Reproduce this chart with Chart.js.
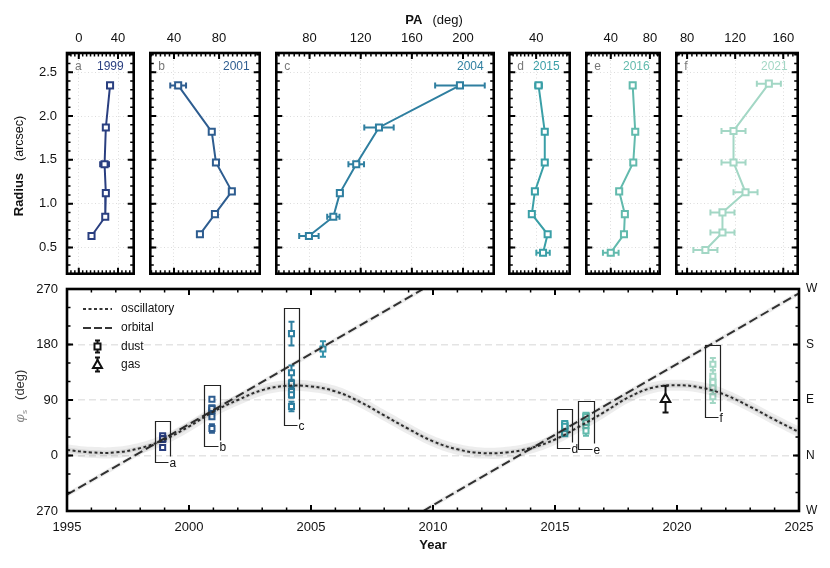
<!DOCTYPE html>
<html>
<head>
<meta charset="utf-8">
<script src="https://cdn.jsdelivr.net/npm/chart.js@4.4.1/dist/chart.umd.min.js"></script>
<style>
  html, body { margin: 0; padding: 0; background: #fff; }
  #wrap { position: relative; width: 830px; height: 568px; overflow: hidden;
          font-family: "Liberation Sans", Arial, sans-serif; color: #111; }
  #wrap canvas { position: absolute; }
  .t { position: absolute; font-size: 13px; white-space: nowrap; line-height: 1; }
</style>
</head>
<body>
<div id="wrap">
  <canvas id="p1999"></canvas>
  <canvas id="p2001"></canvas>
  <canvas id="p2004"></canvas>
  <canvas id="p2015"></canvas>
  <canvas id="p2016"></canvas>
  <canvas id="p2021"></canvas>
  <canvas id="phi"></canvas>
  <div class="t" style="left:434px;top:19px;transform:translate(-50%,-50%)"><b>PA</b><span style="margin-left:10px">(deg)</span></div>
  <div class="t" style="left:19px;top:166px;transform:translate(-50%,-50%) rotate(-90deg)"><b>Radius</b><span style="margin-left:12px;font-size:12.5px">(arcsec)</span></div>
  <div class="t" style="left:21px;top:396px;transform:translate(-50%,-50%) rotate(-90deg)"><span style="color:#888;font-style:italic">φ</span><sub style="color:#888;font-size:8px">s</sub><span style="margin-left:10px;color:#333">(deg)</span></div>
</div>

<script>
/* Radius vs PA panels + phi_s vs year */

// ── Data: radius profiles (PA in deg, radius in arcsec) ─────────
const RADIUS_TICKS = [0.5, 1.0, 1.5, 2.0, 2.5];

const R_1999   = [2.35, 1.87, 1.45, 1.12, 0.85, 0.63];
const PA_1999  = [31.9, 27.6, 26.3, 27.6, 27.0, 13.0];
const ERR_1999 = [1.5, 1.5, 4.5, 1.5, 1.5, 1.5];

const R_2001   = [2.35, 1.82, 1.47, 1.14, 0.88, 0.65];
const PA_2001  = [43.7, 73.5, 77.2, 91.3, 76.3, 63.0];
const ERR_2001 = [7.0, 1.5, 1.5, 1.5, 1.5, 1.5];

const R_2004   = [2.35, 1.87, 1.45, 1.12, 0.85, 0.63];
const PA_2004  = [197.6, 134.3, 116.5, 103.7, 98.6, 79.5];
const ERR_2004 = [19.4, 11.5, 6.1, 2.0, 4.8, 7.6];

const R_2015   = [2.35, 1.82, 1.47, 1.14, 0.88, 0.65, 0.44];
const PA_2015  = [42.5, 49.0, 49.0, 38.7, 35.5, 52.0, 47.2];
const ERR_2015 = [3.5, 1.5, 1.5, 1.5, 1.5, 1.5, 7.0];

const R_2016   = [2.35, 1.82, 1.47, 1.14, 0.88, 0.65, 0.44];
const PA_2016  = [62.4, 65.0, 63.0, 48.6, 54.4, 53.5, 40.0];
const ERR_2016 = [1.5, 1.5, 1.5, 1.5, 1.5, 1.5, 8.0];

const R_2021   = [2.37, 1.83, 1.47, 1.13, 0.90, 0.67, 0.47];
const PA_2021  = [148.0, 118.6, 118.6, 128.6, 109.4, 109.4, 95.2];
const ERR_2021 = [10, 10, 10, 10, 10, 10, 10];

const PA_TICKS_1999 = [0, 40];
const PA_TICKS_2001 = [40, 80];
const PA_TICKS_2004 = [80, 120, 160, 200];
const PA_TICKS_2015 = [40];
const PA_TICKS_2016 = [40, 80];
const PA_TICKS_2021 = [80, 120, 160];

// ── Data: phi_s vs year ─────────────────────────────────────────
const EPOCH_LETTERS = ['a', 'b', 'c', 'd', 'e', 'f'];
const EPOCH_YEARS   = [1998.92, 2000.94, 2004.2, 2015.4, 2016.27, 2021.47];

const EXTRA_YEAR = [2005.49];
const EXTRA_PHI  = [172.7];
const EXTRA_ERR  = [12.7];

const GAS_YEAR = [2019.53];
const GAS_PHI  = [91.3];
const GAS_ERR  = [21.7];

const OSC_YEARS = [1995, 1996, 1997, 1998, 1999, 2000, 2001, 2002, 2003, 2004, 2005,
                   2006, 2007, 2008, 2009, 2010, 2011, 2012, 2013, 2014, 2015,
                   2016, 2017, 2018, 2019, 2020, 2021, 2022, 2023, 2024, 2025];
const OSC_PHI   = [9, 5, 5, 12, 26, 47, 71, 90, 106, 113, 112,
                   104, 87, 65, 43, 23, 10, 4, 5, 12, 26,
                   47, 70, 94, 110, 114, 110, 98, 79, 58, 38];

const ORBIT1_YEARS = [1995, 2009.6];
const ORBIT1_PHI   = [-63.6, 270];
const ORBIT2_YEARS = [2009.6, 2025];
const ORBIT2_PHI   = [-90, 263];

const YEAR_TICKS  = [1995, 2000, 2005, 2010, 2015, 2020, 2025];
const PHI_TICKS   = [-90, 0, 90, 180, 270];
const PHI_LABELS  = ['270', '0', '90', '180', '270'];
const COMPASS     = ['W', 'N', 'E', 'S', 'W'];
const LEGEND_TEXT = ['oscillatory', 'orbital', 'dust', 'gas'];

// ── Styling ─────────────────────────────────────────────────────
const FONT = '"Liberation Sans", Arial, sans-serif';
Chart.defaults.font.family = FONT;
Chart.defaults.color = '#111';

const COLORS = {
  1999: '#2a3f80', 2001: '#2e5d90', 2004: '#2f7fa0',
  2015: '#3a9fa7', 2016: '#62baad', 2021: '#a3d7c5'
};
const EXTRA_COLOR = '#3592ab';
const GRID = '#dcdcdc';
const LINE = '#353535';
const OSC_BAND = [9, 4];
const ORBIT_BAND = 4;
const BOX_PAD = 22;
const BOX_HALF = 0.31;

// fixed axis sizes, no label overhang padding
const fixSize = (w, h) => s => {
  if (w !== null) s.width = w;
  if (h !== null) s.height = h;
  s.paddingLeft = 0; s.paddingRight = 0; s.paddingTop = 0; s.paddingBottom = 0;
};

// ── Plugins ─────────────────────────────────────────────────────
const errorBars = {
  id: 'errorBars',
  beforeDatasetDraw(chart, args) {
    const ds = chart.data.datasets[args.index];
    if (!ds.errX && !ds.errY) return;
    const xs = chart.scales.x, ys = chart.scales.y, ctx = chart.ctx;
    const cap = 3;
    ctx.save();
    ctx.strokeStyle = ds.pointBorderColor;
    ctx.lineWidth = 2;
    ds.data.forEach((p, i) => {
      const px = xs.getPixelForValue(p.x), py = ys.getPixelForValue(p.y);
      ctx.beginPath();
      if (ds.errX) {
        const a = xs.getPixelForValue(p.x - ds.errX[i]), b = xs.getPixelForValue(p.x + ds.errX[i]);
        ctx.moveTo(a, py); ctx.lineTo(b, py);
        ctx.moveTo(a, py - cap); ctx.lineTo(a, py + cap);
        ctx.moveTo(b, py - cap); ctx.lineTo(b, py + cap);
      }
      if (ds.errY) {
        const a = ys.getPixelForValue(p.y - ds.errY[i]), b = ys.getPixelForValue(p.y + ds.errY[i]);
        ctx.moveTo(px, a); ctx.lineTo(px, b);
        ctx.moveTo(px - cap, a); ctx.lineTo(px + cap, a);
        ctx.moveTo(px - cap, b); ctx.lineTo(px + cap, b);
      }
      ctx.stroke();
    });
    ctx.restore();
  }
};

// inward ticks on all four sides + heavy frame
const frame = {
  id: 'frame',
  afterDraw(chart, args, opts) {
    const { ctx, chartArea: a } = chart;
    const xs = chart.scales.x, ys = chart.scales.y;
    const minors = (s, step) => {
      const out = [];
      for (let v = Math.ceil(s.min / step - 1e-6) * step; v <= s.max + 1e-6; v += step) out.push(v);
      return out;
    };
    const drawX = (vals, len) => vals.forEach(v => {
      const px = xs.getPixelForValue(v);
      ctx.moveTo(px, a.top); ctx.lineTo(px, a.top + len);
      ctx.moveTo(px, a.bottom); ctx.lineTo(px, a.bottom - len);
    });
    const drawY = (vals, len) => vals.forEach(v => {
      const py = ys.getPixelForValue(v);
      ctx.moveTo(a.left, py); ctx.lineTo(a.left + len, py);
      ctx.moveTo(a.right, py); ctx.lineTo(a.right - len, py);
    });
    ctx.save();
    ctx.strokeStyle = '#000';
    ctx.lineWidth = 1.5;
    ctx.beginPath();
    drawX(minors(xs, opts.xMinor), 3.5);
    drawY(minors(ys, opts.yMinor), 3.5);
    ctx.stroke();
    ctx.lineWidth = 2;
    ctx.beginPath();
    drawX(xs.ticks.map(t => t.value), 6);
    drawY(ys.ticks.map(t => t.value), 6);
    ctx.stroke();
    ctx.lineWidth = 2.6;
    ctx.strokeRect(a.left, a.top, a.right - a.left, a.bottom - a.top);
    ctx.restore();
  }
};

const panelTag = {
  id: 'panelTag',
  afterDraw(chart, args, opts) {
    const { ctx, chartArea: a } = chart;
    ctx.save();
    ctx.font = '12px ' + FONT;
    ctx.textBaseline = 'middle';
    ctx.fillStyle = '#777';
    ctx.textAlign = 'left';
    ctx.fillText(opts.letter, a.left + 8, a.top + 14);
    ctx.fillStyle = opts.color;
    ctx.textAlign = 'right';
    ctx.fillText(opts.year, a.right - 10, a.top + 14);
    ctx.restore();
  }
};

// ── Top panels ──────────────────────────────────────────────────
const PANELS = [
  { id: 'p1999', year: 1999, letter: 'a', r: R_1999, pa: PA_1999, err: ERR_1999, ticks: PA_TICKS_1999, min: -12, max: 56,  left: 0,   width: 140, axis: true },
  { id: 'p2001', year: 2001, letter: 'b', r: R_2001, pa: PA_2001, err: ERR_2001, ticks: PA_TICKS_2001, min: 19,  max: 116, left: 144, width: 122 },
  { id: 'p2004', year: 2004, letter: 'c', r: R_2004, pa: PA_2004, err: ERR_2004, ticks: PA_TICKS_2004, min: 54,  max: 224, left: 270, width: 230 },
  { id: 'p2015', year: 2015, letter: 'd', r: R_2015, pa: PA_2015, err: ERR_2015, ticks: PA_TICKS_2015, min: 12,  max: 75,  left: 503, width: 73 },
  { id: 'p2016', year: 2016, letter: 'e', r: R_2016, pa: PA_2016, err: ERR_2016, ticks: PA_TICKS_2016, min: 15,  max: 90,  left: 580, width: 86 },
  { id: 'p2021', year: 2021, letter: 'f', r: R_2021, pa: PA_2021, err: ERR_2021, ticks: PA_TICKS_2021, min: 71,  max: 172, left: 670, width: 134 }
];

PANELS.forEach(p => {
  const cv = document.getElementById(p.id);
  cv.width = p.width; cv.height = 280;
  cv.style.left = p.left + 'px'; cv.style.top = '0px';
  const color = COLORS[p.year];
  new Chart(cv, {
    type: 'line',
    data: {
      datasets: [{
        data: p.pa.map((v, i) => ({ x: v, y: p.r[i] })),
        errX: p.err,
        borderColor: color, borderWidth: 2, tension: 0,
        pointStyle: 'rect', pointRadius: 4.3, pointBorderWidth: 2,
        pointBackgroundColor: '#fff', pointBorderColor: color
      }]
    },
    options: {
      responsive: false, animation: false, events: [],
      layout: { padding: { left: 4, right: 4, top: 0, bottom: 4 } },
      plugins: {
        legend: { display: false }, tooltip: { enabled: false },
        frame: { xMinor: 4, yMinor: 0.1 },
        panelTag: { letter: p.letter, year: String(p.year), color: color }
      },
      scales: {
        x: {
          type: 'linear', position: 'top', min: p.min, max: p.max,
          afterBuildTicks: s => { s.ticks = p.ticks.map(v => ({ value: v })); },
          afterFit: fixSize(null, 53),
          grid: { color: GRID, lineWidth: 1, drawTicks: false },
          border: { display: false, dash: [1, 2.5] },
          ticks: { padding: 7, font: { size: 13 }, callback: v => String(v) }
        },
        y: {
          type: 'linear', min: 0.2, max: 2.72,
          afterBuildTicks: s => { s.ticks = RADIUS_TICKS.map(v => ({ value: v })); },
          afterFit: fixSize(p.axis ? 63 : 0, null),
          grid: { color: GRID, lineWidth: 1, drawTicks: false },
          border: { display: false, dash: [1, 2.5] },
          ticks: { display: !!p.axis, padding: 10, font: { size: 13 }, callback: v => v.toFixed(1) }
        }
      }
    },
    plugins: [errorBars, frame, panelTag]
  });
});

// ── Bottom panel: phi_s vs year ─────────────────────────────────
const EPOCH_DATA = [
  { year: 1999, pa: PA_1999, err: ERR_1999 },
  { year: 2001, pa: PA_2001, err: ERR_2001 },
  { year: 2004, pa: PA_2004, err: ERR_2004 },
  { year: 2015, pa: PA_2015, err: ERR_2015 },
  { year: 2016, pa: PA_2016, err: ERR_2016 },
  { year: 2021, pa: PA_2021, err: ERR_2021 }
];

const epochBoxes = {
  id: 'epochBoxes',
  afterDatasetsDraw(chart) {
    const { ctx } = chart;
    const xs = chart.scales.x, ys = chart.scales.y;
    ctx.save();
    ctx.strokeStyle = '#222';
    ctx.lineWidth = 1.2;
    ctx.font = '12px ' + FONT;
    ctx.fillStyle = '#111';
    ctx.textBaseline = 'middle';
    EPOCH_DATA.forEach((e, k) => {
      let lo = Infinity, hi = -Infinity;
      e.pa.forEach((v, i) => { lo = Math.min(lo, v - e.err[i]); hi = Math.max(hi, v + e.err[i]); });
      const yr = EPOCH_YEARS[k];
      const l = Math.round(xs.getPixelForValue(yr - BOX_HALF)) + 0.5;
      const r = Math.round(xs.getPixelForValue(yr + BOX_HALF)) + 0.5;
      const t = Math.round(ys.getPixelForValue(hi + BOX_PAD)) + 0.5;
      const b = Math.round(ys.getPixelForValue(lo - BOX_PAD)) + 0.5;
      ctx.beginPath();
      ctx.moveTo(r, b - 6); ctx.lineTo(r, t); ctx.lineTo(l, t); ctx.lineTo(l, b); ctx.lineTo(r - 2, b);
      ctx.stroke();
      ctx.fillText(EPOCH_LETTERS[k], r - 1, b + 1);
    });
    ctx.restore();
  }
};

const phiLegend = {
  id: 'phiLegend',
  afterDraw(chart) {
    const { ctx, chartArea: a } = chart;
    const x0 = a.left + 16, x1 = a.left + 45, xm = (x0 + x1) / 2, tx = a.left + 54;
    const rows = [20, 39, 57.5, 75.5].map(d => a.top + d);
    ctx.save();
    ctx.strokeStyle = LINE;
    ctx.lineWidth = 2;
    ctx.setLineDash([3, 2.5]);
    ctx.beginPath(); ctx.moveTo(x0, rows[0]); ctx.lineTo(x1, rows[0]); ctx.stroke();
    ctx.setLineDash([8, 3]);
    ctx.beginPath(); ctx.moveTo(x0, rows[1]); ctx.lineTo(x1, rows[1]); ctx.stroke();
    ctx.setLineDash([]);
    ctx.strokeStyle = '#111';
    // dust
    let y = rows[2];
    ctx.beginPath();
    ctx.moveTo(xm, y - 6); ctx.lineTo(xm, y + 6);
    ctx.moveTo(xm - 2.5, y - 6); ctx.lineTo(xm + 2.5, y - 6);
    ctx.moveTo(xm - 2.5, y + 6); ctx.lineTo(xm + 2.5, y + 6);
    ctx.stroke();
    ctx.fillStyle = '#fff';
    ctx.fillRect(xm - 3, y - 3, 6, 6); ctx.strokeRect(xm - 3, y - 3, 6, 6);
    // gas
    y = rows[3];
    ctx.beginPath();
    ctx.moveTo(xm, y - 7); ctx.lineTo(xm, y + 7);
    ctx.moveTo(xm - 2.5, y - 7); ctx.lineTo(xm + 2.5, y - 7);
    ctx.moveTo(xm - 2.5, y + 7); ctx.lineTo(xm + 2.5, y + 7);
    ctx.stroke();
    ctx.beginPath();
    ctx.moveTo(xm, y - 4.5); ctx.lineTo(xm + 4.5, y + 3.5); ctx.lineTo(xm - 4.5, y + 3.5); ctx.closePath();
    ctx.fill(); ctx.stroke();
    ctx.fillStyle = '#111';
    ctx.font = '12px ' + FONT;
    ctx.textBaseline = 'middle';
    LEGEND_TEXT.forEach((t, i) => ctx.fillText(t, tx, rows[i]));
    ctx.restore();
  }
};

const xy = (xsArr, ysArr, off = 0) => xsArr.map((x, i) => ({ x: x, y: ysArr[i] + off }));
const band = (pts, fillColor, tension) => [
  { data: pts.up, fill: '+1', backgroundColor: fillColor, borderWidth: 0, pointRadius: 0, tension: tension },
  { data: pts.lo, fill: false, borderWidth: 0, pointRadius: 0, tension: tension }
];

const phiDatasets = [
  ...band({ up: xy(OSC_YEARS, OSC_PHI, OSC_BAND[0]), lo: xy(OSC_YEARS, OSC_PHI, -OSC_BAND[0]) }, 'rgba(0,0,0,0.07)', 0.4),
  ...band({ up: xy(OSC_YEARS, OSC_PHI, OSC_BAND[1]), lo: xy(OSC_YEARS, OSC_PHI, -OSC_BAND[1]) }, 'rgba(0,0,0,0.08)', 0.4),
  ...band({ up: xy(ORBIT1_YEARS, ORBIT1_PHI, ORBIT_BAND), lo: xy(ORBIT1_YEARS, ORBIT1_PHI, -ORBIT_BAND) }, 'rgba(0,0,0,0.07)', 0),
  ...band({ up: xy(ORBIT2_YEARS, ORBIT2_PHI, ORBIT_BAND), lo: xy(ORBIT2_YEARS, ORBIT2_PHI, -ORBIT_BAND) }, 'rgba(0,0,0,0.07)', 0),
  { data: xy(OSC_YEARS, OSC_PHI), borderColor: LINE, borderWidth: 2, borderDash: [3, 2.5], pointRadius: 0, tension: 0.4 },
  { data: xy(ORBIT1_YEARS, ORBIT1_PHI), borderColor: LINE, borderWidth: 2, borderDash: [9, 4], pointRadius: 0 },
  { data: xy(ORBIT2_YEARS, ORBIT2_PHI), borderColor: LINE, borderWidth: 2, borderDash: [9, 4], pointRadius: 0 },
  ...EPOCH_DATA.map((e, k) => ({
    data: e.pa.map(v => ({ x: EPOCH_YEARS[k], y: v })),
    errY: e.err, showLine: false,
    pointStyle: 'rect', pointRadius: 3.6, pointBorderWidth: 2,
    pointBackgroundColor: '#fff', pointBorderColor: COLORS[e.year]
  })),
  {
    data: xy(EXTRA_YEAR, EXTRA_PHI), errY: EXTRA_ERR, showLine: false,
    pointStyle: 'rect', pointRadius: 3.6, pointBorderWidth: 2,
    pointBackgroundColor: '#fff', pointBorderColor: EXTRA_COLOR
  },
  {
    data: xy(GAS_YEAR, GAS_PHI), errY: GAS_ERR, showLine: false,
    pointStyle: 'triangle', pointRadius: 5.5, pointBorderWidth: 2,
    pointBackgroundColor: '#fff', pointBorderColor: '#111'
  }
];

const phiCanvas = document.getElementById('phi');
phiCanvas.width = 830; phiCanvas.height = 288;
phiCanvas.style.left = '0px'; phiCanvas.style.top = '280px';

new Chart(phiCanvas, {
  type: 'line',
  data: { datasets: phiDatasets },
  options: {
    responsive: false, animation: false, events: [],
    layout: { padding: { top: 9, left: 0, right: 0, bottom: 0 } },
    plugins: {
      legend: { display: false }, tooltip: { enabled: false },
      frame: { xMinor: 1, yMinor: 30 }
    },
    scales: {
      x: {
        type: 'linear', min: 1995, max: 2025,
        afterBuildTicks: s => { s.ticks = YEAR_TICKS.map(v => ({ value: v })); },
        afterFit: fixSize(null, 57),
        grid: { display: false },
        border: { display: false },
        ticks: { padding: 1, font: { size: 13 }, callback: v => String(v) },
        title: { display: true, text: 'Year', font: { size: 13, weight: 'bold' }, padding: { top: 0, bottom: 15 } }
      },
      y: {
        type: 'linear', min: -90, max: 270,
        afterBuildTicks: s => { s.ticks = PHI_TICKS.map(v => ({ value: v })); },
        afterFit: fixSize(67, null),
        grid: {
          drawTicks: false, lineWidth: 1.5,
          color: c => (c.tick && c.tick.value > -90 && c.tick.value < 270) ? '#e4e4e4' : 'rgba(0,0,0,0)'
        },
        border: { display: false, dash: [7, 4] },
        ticks: { padding: 9, font: { size: 13 }, callback: (v, i) => PHI_LABELS[i] }
      },
      y2: {
        type: 'linear', position: 'right', min: -90, max: 270,
        afterBuildTicks: s => { s.ticks = PHI_TICKS.map(v => ({ value: v })); },
        afterFit: fixSize(31, null),
        grid: { drawOnChartArea: false, drawTicks: false },
        border: { display: false },
        ticks: { padding: 7, font: { size: 12 }, callback: (v, i) => COMPASS[i] }
      }
    }
  },
  plugins: [errorBars, frame, epochBoxes, phiLegend]
});
</script>
</body>
</html>
